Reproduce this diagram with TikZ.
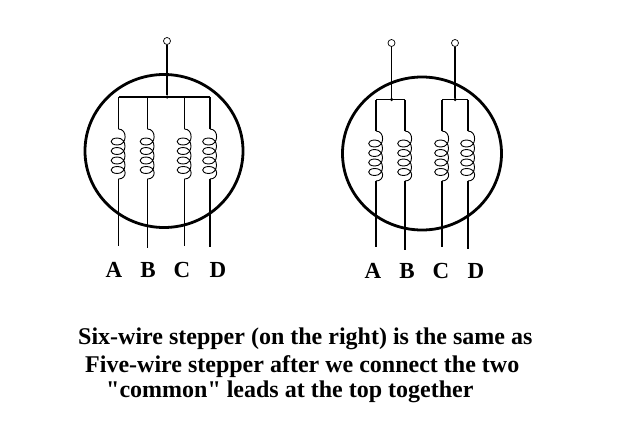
\documentclass[tikz,border=0pt]{standalone}
\usepackage{fontspec}
\setmainfont{Liberation Serif}
\usetikzlibrary{shapes}
\tikzstyle{housing}=[draw,ellipse,line width=2.8pt,inner sep=0pt]
\tikzstyle{terminal}=[circle,draw,fill=white,line width=0.7pt,minimum size=7pt,inner sep=0pt]
\tikzstyle{joint}=[circle,fill=black,minimum size=3.5pt,inner sep=0pt]
\tikzstyle{wire}=[draw,line width=1.3pt,-]
\tikzstyle{letter}=[font=\bfseries\fontsize{23}{23}\selectfont,anchor=base,inner sep=0pt]
\tikzstyle{caption}=[font=\bfseries\fontsize{24}{24}\selectfont,anchor=base west,inner sep=0pt]
\newcommand{\coilpath}[1]{
    \draw[line width=0.9pt,shift={(#1)}] (0,0) .. controls (9,0) and (9,16) .. (-1,16)
        .. controls (-9.5,16) and (-9.5,9) .. (-1,9)
        .. controls (9,9) and (9,25.5) .. (-1,25.5)
        .. controls (-9.5,25.5) and (-9.5,18.5) .. (-1,18.5)
        .. controls (9,18.5) and (9,35) .. (-1,35)
        .. controls (-9.5,35) and (-9.5,28) .. (-1,28)
        .. controls (9,28) and (9,44.5) .. (-1,44.5)
        .. controls (-9.5,44.5) and (-9.5,37.5) .. (-1,37.5)
        .. controls (9,37.5) and (9,50) .. (0,50);
}
\begin{document}
\begin{tikzpicture}[x=1pt,y=-1pt]
    \useasboundingbox (0,0) rectangle (627,447);
    % The two motor bodies
    \node[housing,minimum width=158pt,minimum height=153pt] (leftBody) at (164,151) {};
    \node[housing,minimum width=159pt,minimum height=153pt] (rightBody) at (422,153.5) {};
    % Lead tops, coil ends and lead bottoms
    \foreach \px/\py/\name in {118.5/97/topA, 147.5/97/topB, 184.5/97/topC, 210/97/topD,
        376/99.5/topE, 405/99.5/topF, 442/99.5/topG, 468/99.5/topH,
        118.5/129/inA, 147.5/129/inB, 184.5/129/inC, 210/129/inD,
        376/131/inE, 405/131/inF, 442/131/inG, 468/131/inH,
        118.5/179/outA, 147.5/179/outB, 184.5/179/outC, 210/179/outD,
        376/181/outE, 405/181/outF, 442/181/outG, 468/181/outH,
        118.5/246/endA, 147.5/248/endB, 184.5/246/endC, 210/247/endD,
        376/247/endE, 405/250/endF, 442/247/endG, 468/249/endH}
        \coordinate (\name) at (\px,\py);
    % Terminals and the joints under them
    \foreach \pos/\name in {{(167,41)/leftTerm}, {(391.5,43)/rightTermA}, {(455,43)/rightTermB}}
        \node[terminal] (\name) at \pos {};
    \foreach \pos/\name in {{(167,97)/leftJoint}, {(391.5,99.5)/rightJointA}, {(455,99.5)/rightJointB}}
        \node[joint] (\name) at \pos {};
    % Connect everything with wires
    \foreach \source/\dest in {leftTerm/leftJoint, rightTermA/rightJointA, rightTermB/rightJointB, topA/topD, topE/topF, topG/topH}
        \path[wire] (\source) -- (\dest);
    \foreach \name in {A,B,C,D,E,F,G,H} {
        \path[wire] (top\name) -- (in\name);
        \path[wire] (out\name) -- (end\name);
        \coilpath{in\name}
    }
    % Lead letters
    \foreach \pos/\name/\txt in {{(114,277)/labA/A}, {(148,277)/labB/B}, {(182,277)/labC/C}, {(218,277)/labD/D},
        {(373,278)/labE/A}, {(407,278)/labF/B}, {(441,278)/labG/C}, {(476,278)/labH/D}}
        \node[letter] (\name) at \pos {\txt};
    % Caption
    \node[caption] (lineOne) at (78,344) {Six-wire stepper (on the right) is the same as};
    \node[caption] (lineTwo) at (85,372) {Five-wire stepper after we connect the two};
    \node[caption] (lineThree) at (106,397) {\textquotedbl common\textquotedbl{} leads at the top together};
\end{tikzpicture}
\end{document}
